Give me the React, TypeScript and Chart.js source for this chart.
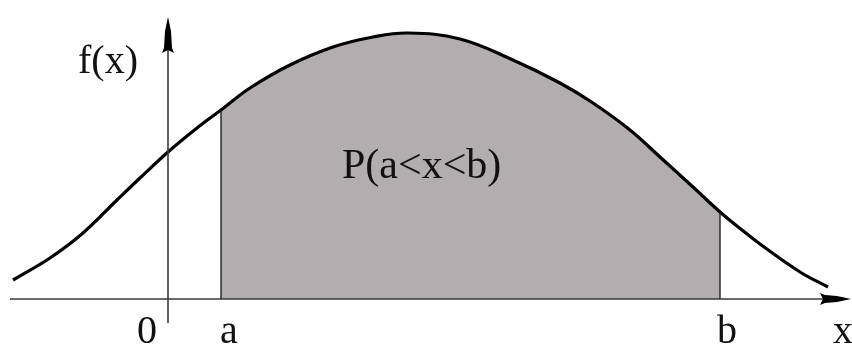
import React, { useEffect, useRef } from "react";
import { Chart, registerables } from "chart.js";

Chart.register(...registerables);

// Density curve (x: distance from y-axis, y: height above x-axis; 1 unit = 100px)
const curveX = [-1.55, -1.18, -0.85, -0.51, -0.28, 0, 0.29, 0.53, 0.82, 1.22, 1.65, 2.05, 2.4, 2.92, 3.45, 3.92, 4.25, 4.62, 4.92, 5.25, 5.52, 5.74, 5.92, 6.32, 6.6];
const curveY = [0.19, 0.41, 0.66, 0.99, 1.21, 1.47, 1.71, 1.89, 2.11, 2.34, 2.52, 2.62, 2.66, 2.6, 2.39, 2.16, 1.96, 1.69, 1.42, 1.12, 0.87, 0.69, 0.55, 0.27, 0.12];
const boundA = 0.53;
const boundB = 5.52;
const xLabels = ["0", "a", "b", "x"];
const yLabel = "f(x)";
const areaLabel = "P(a<x<b)";

const X_MIN = -1.68;
const X_MAX = 6.84;
const Y_MIN = -0.48;
const Y_MAX = 2.99;

const curveData = curveX.map((x, i) => ({ x, y: curveY[i] }));

const fAt = (v: number) => {
  const i = curveX.findIndex((x) => Math.abs(x - v) < 1e-9);
  return curveY[i];
};

const decorPlugin = {
  id: "decor",
  beforeDatasetsDraw(chart: any) {
    // clip the shaded (first-drawn) dataset to a <= x <= b
    const ctx = chart.ctx as CanvasRenderingContext2D;
    const xs = chart.scales.x;
    const l = xs.getPixelForValue(boundA);
    const r = xs.getPixelForValue(boundB);
    ctx.save();
    ctx.beginPath();
    ctx.rect(l, 0, r - l, chart.height);
    ctx.clip();
  },
  afterDatasetDraw(chart: any, args: any) {
    if (args.index !== 1) return;
    chart.ctx.restore();
  },
  afterDatasetsDraw(chart: any) {
    const ctx = chart.ctx as CanvasRenderingContext2D;
    const xs = chart.scales.x;
    const ys = chart.scales.y;
    const px = (v: number) => xs.getPixelForValue(v);
    const py = (v: number) => ys.getPixelForValue(v);
    const y0 = py(0);
    const x0 = px(0);
    ctx.save();
    // x axis
    ctx.strokeStyle = "#3a3a3a";
    ctx.lineWidth = 1.6;
    ctx.beginPath();
    ctx.moveTo(px(-1.58), y0);
    ctx.lineTo(px(6.6), y0);
    ctx.stroke();
    // y axis
    ctx.beginPath();
    ctx.moveTo(x0, py(-0.24));
    ctx.lineTo(x0, py(2.6));
    ctx.stroke();
    // boundary verticals
    ctx.strokeStyle = "#222";
    ctx.lineWidth = 1.4;
    [boundA, boundB].forEach((v) => {
      ctx.beginPath();
      ctx.moveTo(px(v), y0);
      ctx.lineTo(px(v), py(fAt(v)));
      ctx.stroke();
    });
    // arrowheads
    ctx.fillStyle = "#000";
    const yt = py(2.82);
    ctx.beginPath();
    ctx.moveTo(x0, yt);
    ctx.lineTo(x0 - 3, yt + 14);
    ctx.lineTo(x0 - 4, yt + 31);
    ctx.lineTo(x0 - 6, yt + 36);
    ctx.lineTo(x0, yt + 33);
    ctx.lineTo(x0 + 6, yt + 36);
    ctx.lineTo(x0 + 4, yt + 31);
    ctx.lineTo(x0 + 3, yt + 14);
    ctx.closePath();
    ctx.fill();
    const xt = px(6.83);
    ctx.beginPath();
    ctx.moveTo(xt, y0);
    ctx.lineTo(xt - 14, y0 - 3);
    ctx.lineTo(xt - 26, y0 - 4);
    ctx.lineTo(xt - 31, y0 - 6);
    ctx.lineTo(xt - 28, y0);
    ctx.lineTo(xt - 31, y0 + 6);
    ctx.lineTo(xt - 26, y0 + 4);
    ctx.lineTo(xt - 14, y0 + 3);
    ctx.closePath();
    ctx.fill();
    // texts
    ctx.fillStyle = "#111";
    ctx.textBaseline = "alphabetic";
    ctx.textAlign = "left";
    ctx.font = '40px "Liberation Serif", "DejaVu Serif", serif';
    ctx.fillText(yLabel, x0 - 90, py(2.26));
    const base = y0 + 44;
    ctx.fillText(xLabels[0], x0 - 31, base);
    ctx.fillText(xLabels[1], px(boundA) - 1, base);
    ctx.fillText(xLabels[2], px(boundB) - 3, base);
    ctx.fillText(xLabels[3], px(6.65), base);
    ctx.font = '42px "Liberation Serif", "DejaVu Serif", serif';
    ctx.fillText(areaLabel, px(1.74), py(1.21));
    ctx.restore();
  },
};

export default function App() {
  const ref = useRef<HTMLCanvasElement | null>(null);
  useEffect(() => {
    if (!ref.current) return;
    const chart = new Chart(ref.current, {
      type: "line",
      data: {
        datasets: [
          {
            data: curveData,
            borderColor: "#000",
            borderWidth: 3.2,
            pointRadius: 0,
            tension: 0.4,
            fill: false,
            order: 0,
          },
          {
            data: curveData,
            borderWidth: 0,
            borderColor: "rgba(0,0,0,0)",
            backgroundColor: "#b2aeb0",
            pointRadius: 0,
            tension: 0.4,
            fill: "origin",
            order: 1,
          },
        ],
      },
      options: {
        animation: false,
        responsive: false,
        maintainAspectRatio: false,
        layout: { padding: 0 },
        plugins: { legend: { display: false }, tooltip: { enabled: false } },
        events: [],
        scales: {
          x: { type: "linear", min: X_MIN, max: X_MAX, display: false },
          y: { type: "linear", min: Y_MIN, max: Y_MAX, display: false },
        },
      },
      plugins: [decorPlugin],
    });
    return () => chart.destroy();
  }, []);
  return (
    <div style={{ position: "absolute", left: 0, top: 0, width: 852, height: 347, background: "#fff" }}>
      <canvas ref={ref} width={852} height={347} style={{ width: 852, height: 347, display: "block" }} />
    </div>
  );
}
